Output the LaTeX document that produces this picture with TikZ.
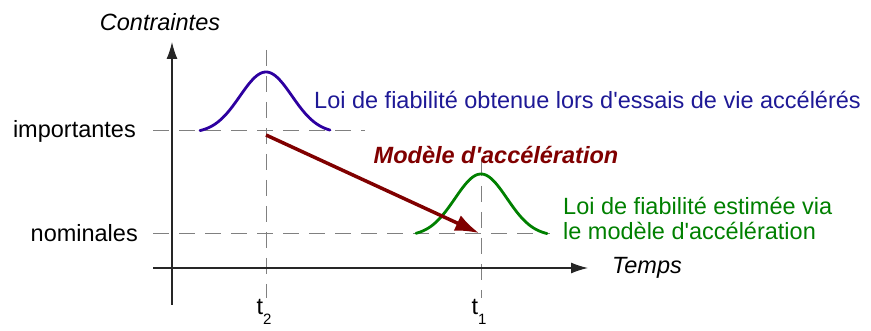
\documentclass[tikz,border=0pt]{standalone}
\usepackage{fontspec}
\setmainfont{Liberation Sans}
\usetikzlibrary{arrows.meta, positioning}

\definecolor{loiblue}{RGB}{45,0,160}
\definecolor{textblue}{RGB}{30,25,150}
\definecolor{loigreen}{RGB}{0,128,0}
\definecolor{accred}{RGB}{128,0,0}

\newcommand{\lblfont}{\fontsize{23.5}{25}\selectfont}
\newcommand{\apos}{\textquotesingle}

\tikzset{
  axis/.style={line width=1.2pt, black!85, -{Latex[length=17pt,width=11pt]}},
  guide/.style={gray, line width=1pt, dash pattern=on 16pt off 10pt},
  lbl/.style={font=\lblfont, inner sep=0pt},
}

\begin{document}
\begin{tikzpicture}[x=1pt, y=-1pt]
  \useasboundingbox (0,0) rectangle (871,331);

  % Key Points
  \coordinate (origin) at (172,268);
  \coordinate (imp) at (266,131);
  \coordinate (nom) at (481,234);

  % Guide lines
  \draw[guide] (153,131) -- (365,131);
  \draw[guide] (153,234) -- (550,234);
  \draw[guide] (266,50) -- (266,298);
  \draw[guide] (481,160) -- (481,298);

  % Axes
  \draw[axis] (172,305) -- (172,42);
  \draw[axis] (153,268) -- (588,268);

  % Reliability laws
  \draw[loiblue, line width=2.8pt, line cap=round]
    plot[domain=-66:64, samples=70, smooth] ({266+\x},{133-61*exp(-\x*\x/1350)});
  \draw[loigreen, line width=2.8pt, line cap=round]
    plot[domain=-65:66, samples=70, smooth] ({481+\x},{236-62*exp(-\x*\x/1350)});

  % Acceleration model
  \draw[accred, line width=3.5pt, -{Latex[length=24pt,width=17pt]}, shorten >=2pt]
    (imp) ++(0,4) coordinate (start) (start) -- (nom);

  % Labels
  \node[lbl, font=\lblfont\itshape] (contr) at (160,22) {Contraintes};
  \node[lbl, font=\lblfont\itshape, anchor=west] (temps) at (612,268) {Temps};
  \node[lbl, anchor=east] (importantes) at (136,131) {importantes};
  \node[lbl, anchor=east] (nominales) at (138,233) {nominales};
  \node[lbl] (t2) at (264,312) {t\raisebox{-10pt}{\fontsize{15}{15}\selectfont 2}};
  \node[lbl] (t1) at (479,312) {t\raisebox{-10pt}{\fontsize{15}{15}\selectfont 1}};
  \node[lbl, textblue, anchor=west] (loiacc) at (314,100)
    {Loi de fiabilit\'e obtenue lors d\apos essais de vie acc\'el\'er\'es};
  \node[lbl, loigreen, anchor=west, align=left] (loiest) at (563,218)
    {Loi de fiabilit\'e estim\'ee via\\le mod\`ele d\apos acc\'el\'eration};
  \node[lbl, accred, font=\lblfont\bfseries\itshape] (modele) at (496,155)
    {Mod\`ele d\apos acc\'el\'eration};
\end{tikzpicture}
\end{document}
